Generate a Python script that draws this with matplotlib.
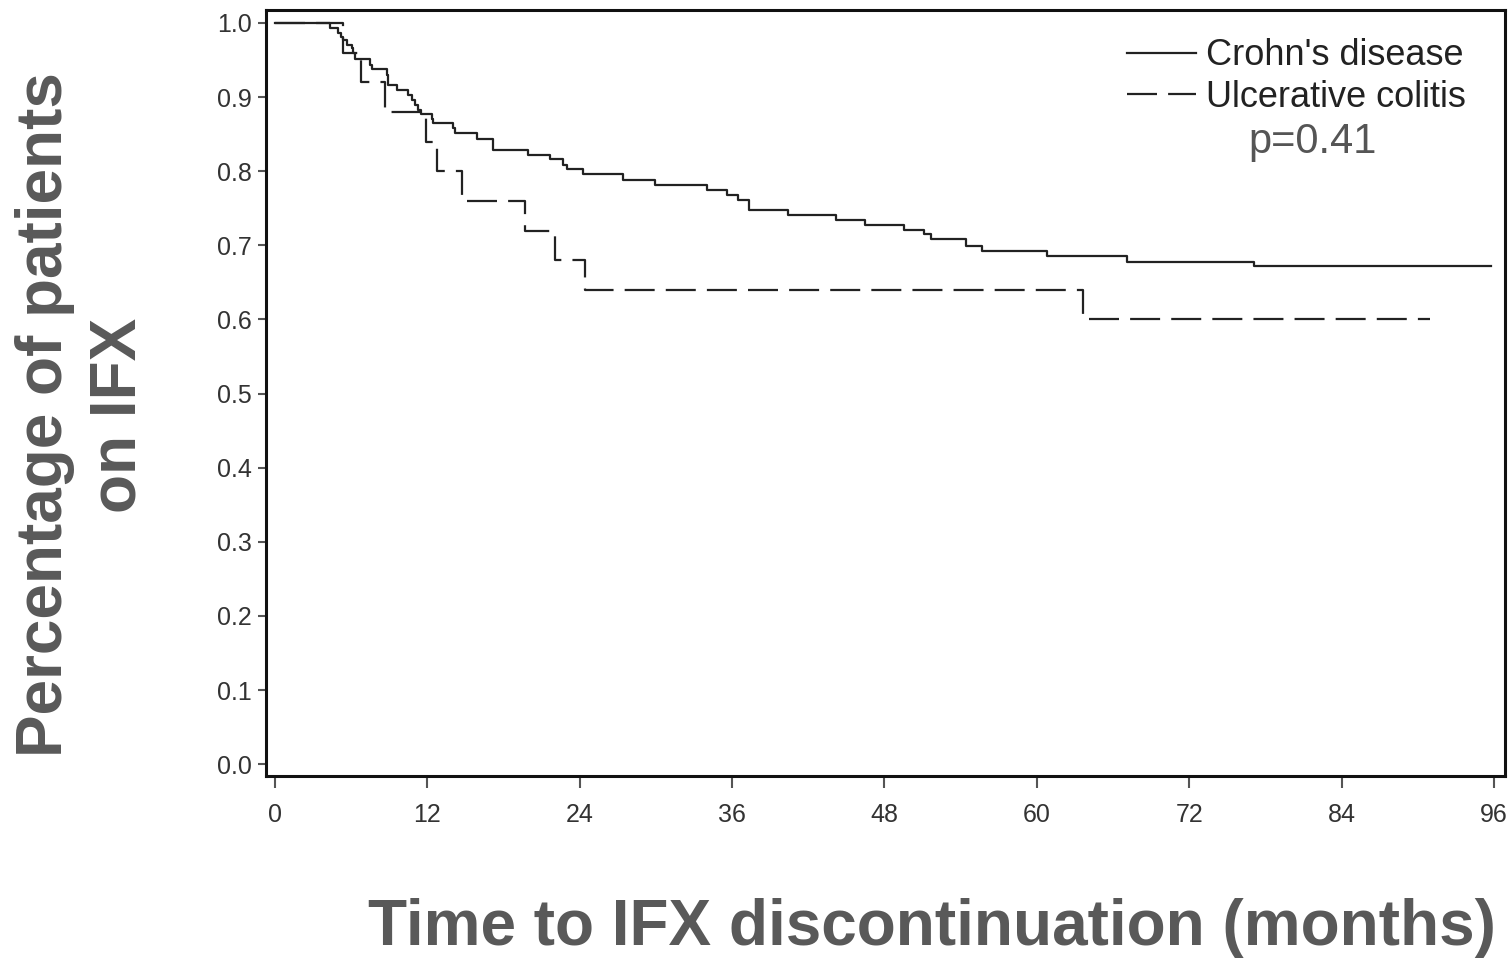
import matplotlib.pyplot as plt

# Kaplan-Meier style step data: event times (months) and survival after each event
cd_time = [0, 4.33, 4.98, 5.17, 5.38, 5.65, 6.04, 6.17, 6.30, 7.48, 7.61, 8.80, 8.92,
           9.58, 10.50, 10.76, 11.02, 11.28, 11.47, 12.34, 12.46, 14.04, 14.17, 15.93,
           17.14, 19.94, 21.65, 22.70, 22.97, 24.28, 27.43, 29.92, 33.99, 35.57, 36.48,
           37.35, 40.42, 44.17, 46.46, 49.53, 51.13, 51.65, 54.39, 55.72, 60.84, 67.13,
           77.09, 95.8]
cd_surv = [1.0, 0.993, 0.986, 0.981, 0.977, 0.970, 0.966, 0.959, 0.951, 0.943, 0.938,
           0.930, 0.917, 0.910, 0.903, 0.896, 0.889, 0.883, 0.877, 0.871, 0.865, 0.858,
           0.851, 0.844, 0.829, 0.822, 0.817, 0.808, 0.803, 0.796, 0.788, 0.781, 0.775,
           0.768, 0.761, 0.748, 0.741, 0.734, 0.727, 0.721, 0.715, 0.708, 0.699, 0.692,
           0.686, 0.678, 0.672, 0.672]

uc_time = [0, 5.33, 6.75, 8.66, 11.89, 12.73, 14.70, 19.69, 22.05, 24.41, 63.62, 90.94]
uc_surv = [1.0, 0.96, 0.92, 0.88, 0.84, 0.80, 0.76, 0.72, 0.68, 0.64, 0.60, 0.60]

x_ticks = [0, 12, 24, 36, 48, 60, 72, 84, 96]
y_ticks = [0.0, 0.1, 0.2, 0.3, 0.4, 0.5, 0.6, 0.7, 0.8, 0.9, 1.0]

plt.rcParams['font.family'] = ['Liberation Sans', 'DejaVu Sans']

fig = plt.figure(figsize=(15.11, 9.64), dpi=100)
ax = fig.add_axes([0.176, 0.195, 0.82, 0.7946])

ax.step(cd_time, cd_surv, where='post', color='#222222', lw=1.6, label="Crohn's disease")
ax.step(uc_time, uc_surv, where='post', color='#222222', lw=1.6,
        linestyle=(0, (13.5, 5)), label='Ulcerative colitis')

ax.set_xlim(-0.71, 96.87)
ax.set_ylim(-0.016, 1.0175)
ax.set_xticks(x_ticks)
ax.set_xticklabels([str(t) for t in x_ticks])
ax.set_yticks(y_ticks)
ax.set_yticklabels([f'{t:.1f}' for t in y_ticks])

for s in ax.spines.values():
    s.set_linewidth(2.2)
    s.set_color('#111111')

ax.tick_params(axis='x', length=8.5, width=1.5, pad=11, labelsize=18,
               colors='#555555', labelcolor='#333333')
ax.tick_params(axis='y', length=6, width=1.5, pad=4, labelsize=18,
               colors='#555555', labelcolor='#333333')

leg = ax.legend(loc='upper left', bbox_to_anchor=(0.695, 0.963), frameon=False,
                fontsize=26, handlelength=1.9, handletextpad=0.3, labelspacing=0.18,
                borderpad=0, borderaxespad=0)
for t in leg.get_texts():
    t.set_color('#222222')

ax.text(0.845, 0.828, 'p=0.41', transform=ax.transAxes, fontsize=30,
        color='#555555', ha='center', va='center')

fig.text(0.054, 0.5695, 'Percentage of patients\non IFX', rotation=90, ha='center',
         va='center', fontsize=46, fontweight='bold', color='#595959', linespacing=1.3)
fig.text(0.617, 0.037, 'Time to IFX discontinuation (months)', ha='center', va='center',
         fontsize=46, fontweight='bold', color='#595959')

fig.savefig('out.png', dpi=100)
